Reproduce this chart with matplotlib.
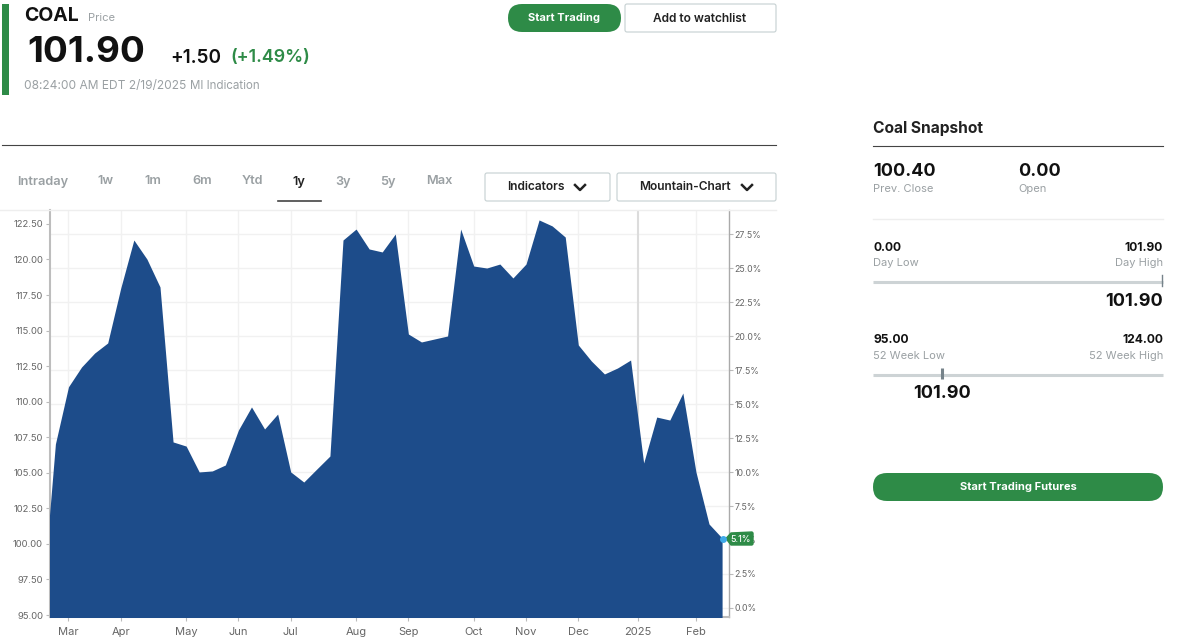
import numpy as np
import matplotlib.pyplot as plt
import matplotlib.dates as mdates
from matplotlib.patches import FancyBboxPatch, Polygon
from datetime import datetime, timedelta

plt.rcParams['font.family'] = ['Inter', 'DejaVu Sans']

# weekly closes
prices = [95.98, 107.03, 111.05, 112.44, 113.42, 114.13, 118.00, 121.37, 120.03, 118.07,
          107.17, 106.88, 105.06, 105.13, 105.55, 108.01, 109.63, 108.08, 109.13, 105.06,
          104.35, 105.27, 106.18, 121.37, 122.14, 120.74, 120.53, 121.79, 114.76, 114.20,
          114.41, 114.62, 122.14, 119.54, 119.40, 119.68, 118.70, 119.68, 122.78, 122.36,
          121.58, 113.99, 112.86, 111.95, 112.37, 112.93, 105.69, 108.92, 108.71, 110.61,
          105.06, 101.40, 100.41]
start = datetime(2024, 2, 19)
dates = [start + timedelta(days=7*i) for i in range(len(prices))]

base_price = 95.5
month_dates = [datetime(2024, 3, 4), datetime(2024, 4, 1), datetime(2024, 5, 6), datetime(2024, 6, 3),
               datetime(2024, 7, 1), datetime(2024, 8, 5), datetime(2024, 9, 2), datetime(2024, 10, 7),
               datetime(2024, 11, 4), datetime(2024, 12, 2), datetime(2025, 1, 3), datetime(2025, 2, 3)]
month_labels = ['Mar', 'Apr', 'May', 'Jun', 'Jul', 'Aug', 'Sep', 'Oct', 'Nov', 'Dec', '2025', 'Feb']
price_ticks = [95, 97.5, 100, 102.5, 105, 107.5, 110, 112.5, 115, 117.5, 120, 122.5]
pct_ticks = [0, 2.5, 5, 7.5, 10, 12.5, 15, 17.5, 20, 22.5, 25, 27.5]

tabs = ['Intraday', '1w', '1m', '6m', 'Ytd', '1y', '3y', '5y', 'Max']
tab_x = [43, 106, 153, 202, 252, 299, 343, 388, 439]

W, H = 1180, 638
plt.figure(figsize=(W/100, H/100), dpi=100)

# price chart
main = plt.axes([50/W, (H-617)/H, 679/W, 407/H])
plt.fill_between(dates, prices, 90, color='#1d4c8a', lw=0, zorder=3)
plt.xlim(start + timedelta(days=4.1), start + timedelta(days=367.7))
ymin, ymax = 94.86, 123.48
plt.ylim(ymin, ymax)
plt.xticks(month_dates, month_labels, fontsize=8, color='#666666')
plt.yticks(price_ticks, ['%.2f' % p for p in price_ticks], fontsize=6.8, color='#666666')
plt.tick_params(axis='y', length=3, width=0.8, color='#bbbbbb', pad=2)
plt.tick_params(axis='x', length=3, width=0.8, color='#bbbbbb', pad=4)
plt.grid(axis='x', color='#f1f1f1', lw=1)
plt.gca().get_xgridlines()[10].set_color('#dcdcdc')
plt.gca().get_xgridlines()[10].set_linewidth(1.5)
for s in ['top', 'right']:
    plt.gca().spines[s].set_visible(False)
for s in ['left', 'bottom']:
    plt.gca().spines[s].set_color('#bdbdbd')
    plt.gca().spines[s].set_linewidth(1.5)

# percent scale on the right
plt.twinx()
plt.ylim((ymin/base_price-1)*100, (ymax/base_price-1)*100)
plt.yticks(pct_ticks, ['%.1f%%' % p for p in pct_ticks], fontsize=6.3, color='#666666')
plt.tick_params(axis='y', length=3, width=0.8, color='#bbbbbb', pad=1)
plt.grid(axis='y', color='#f1f1f1', lw=1)
plt.gca().set_axisbelow(True)
plt.gca().patch.set_visible(False)
for s in ['top', 'left', 'bottom']:
    plt.gca().spines[s].set_visible(False)
plt.gca().spines['right'].set_color('#aaaaaa')
plt.gca().spines['right'].set_linewidth(1)
main.set_zorder(2)
main.patch.set_visible(False)

# page furniture, in pixels
plt.axes([0, 0, 1, 1], zorder=5)
plt.xlim(0, W)
plt.ylim(H, 0)
plt.axis('off')

green = '#2e8b47'
grey = '#9aa0a3'
ink = '#111111'
plt.plot([0, 776], [210, 210], color='#eeeeee', lw=1)
plt.gca().add_patch(plt.Rectangle((2, 4), 7, 91, color=green, lw=0))
plt.text(24, 16, 'COAL', fontsize=14, weight='bold', color=ink, va='center')
plt.text(88, 18, 'Price', fontsize=8, color=grey, va='center')
plt.text(27, 52, '101.90', fontsize=26.5, weight='bold', color=ink, va='center')
plt.text(170, 58, '+1.50', fontsize=13.6, weight='semibold', color=ink, va='center')
plt.text(230, 58, '(+1.49%)', fontsize=12.9, weight='semibold', color=green, va='center')
plt.text(24, 86, '08:24:00 AM EDT 2/19/2025', fontsize=8.6, color=grey, va='center')
plt.text(190, 86, 'MI Indication', fontsize=8.3, color=grey, va='center')

plt.gca().add_patch(FancyBboxPatch((508, 4), 113, 28, boxstyle='round,pad=0,rounding_size=14',
                                   fc=green, ec='none'))
plt.text(564.5, 18, 'Start Trading', fontsize=8, weight='bold', color='white', ha='center', va='center')
for x0, y0, w, h in [(625, 4, 151, 28), (485, 173, 125, 28), (617, 173, 159, 28)]:
    plt.gca().add_patch(FancyBboxPatch((x0, y0), w, h, boxstyle='round,pad=0,rounding_size=2',
                                       fc='white', ec='#c5d0d2', lw=0.8))
plt.text(700, 19, 'Add to watchlist', fontsize=8.6, weight='semibold', color='#222222', ha='center', va='center')
plt.text(535.5, 187, 'Indicators', fontsize=8.6, weight='semibold', color='#222222', ha='center', va='center')
plt.text(685, 187, 'Mountain-Chart', fontsize=8.6, weight='semibold', color='#222222', ha='center', va='center')
plt.plot([575, 580, 585], [185, 190, 185], color='#222222', lw=1.8)
plt.plot([742, 747, 752], [185, 190, 185], color='#222222', lw=1.8)

plt.plot([2, 776], [144.5, 144.5], color='#444444', lw=0.8)
for t, x in zip(tabs, tab_x):
    if t == '1y':
        plt.text(x, 181.5, t, fontsize=9.2, weight='semibold', color='#222222', ha='center', va='center')
    else:
        plt.text(x, 181.5, t, fontsize=9.2, weight='semibold', color=grey, ha='center', va='center')
plt.plot([278, 321], [201, 201], color='#444444', lw=1.2)

# last value tag
plt.gca().add_patch(Polygon([(726, 538.5), (731, 533), (752, 532), (753, 533), (753, 544), (752, 545), (731, 545)],
                            closed=True, fc=green, ec=green, lw=1, joinstyle='round'))
plt.plot([723], [538.5], 'o', ms=5, color='#3fa9e8', mew=0)
plt.text(741, 539, '5.1%', fontsize=6.3, weight='medium', color='white', ha='center', va='center')

# snapshot column
plt.text(873, 129, 'Coal Snapshot', fontsize=11.2, weight='bold', color='#222222', va='center')
plt.plot([873, 1163], [145.5, 145.5], color='#444444', lw=0.8)
plt.text(873, 171, '100.40', fontsize=13, weight='bold', color=ink, va='center')
plt.text(1018, 171, '0.00', fontsize=13, weight='bold', color=ink, va='center')
plt.text(873, 189, 'Prev. Close', fontsize=8, color=grey, va='center')
plt.text(1018, 189, 'Open', fontsize=8, color=grey, va='center')
plt.plot([873, 1163], [219, 219], color='#eeeeee', lw=1)

plt.text(873, 248, '0.00', fontsize=8.7, weight='bold', color=ink, va='center')
plt.text(1163, 248, '101.90', fontsize=8.7, weight='bold', color=ink, va='center', ha='right')
plt.text(873, 263, 'Day Low', fontsize=8, color=grey, va='center')
plt.text(1163, 263, 'Day High', fontsize=8, color=grey, va='center', ha='right')
plt.plot([873, 1163], [282, 282], color='#cdd3d5', lw=2.2, solid_capstyle='butt')
plt.plot([1162, 1162], [275, 286], color='#76838a', lw=1)
plt.text(1163, 302, '101.90', fontsize=13, weight='bold', color=ink, va='center', ha='right')

plt.text(873, 340, '95.00', fontsize=8.7, weight='bold', color=ink, va='center')
plt.text(1163, 340, '124.00', fontsize=8.7, weight='bold', color=ink, va='center', ha='right')
plt.text(873, 356, '52 Week Low', fontsize=8, color=grey, va='center')
plt.text(1163, 356, '52 Week High', fontsize=8, color=grey, va='center', ha='right')
plt.plot([873, 1163], [375, 375], color='#cdd3d5', lw=2.2, solid_capstyle='butt')
plt.plot([942, 942], [368, 379], color='#76838a', lw=2.2, solid_capstyle='butt')
plt.text(942, 394, '101.90', fontsize=13, weight='bold', color=ink, va='center', ha='center')

plt.gca().add_patch(FancyBboxPatch((873, 473), 290, 28, boxstyle='round,pad=0,rounding_size=14',
                                   fc=green, ec='none'))
plt.text(1018, 487.5, 'Start Trading Futures', fontsize=8, weight='bold', color='white', ha='center', va='center')

plt.savefig('out.png', dpi=100)
